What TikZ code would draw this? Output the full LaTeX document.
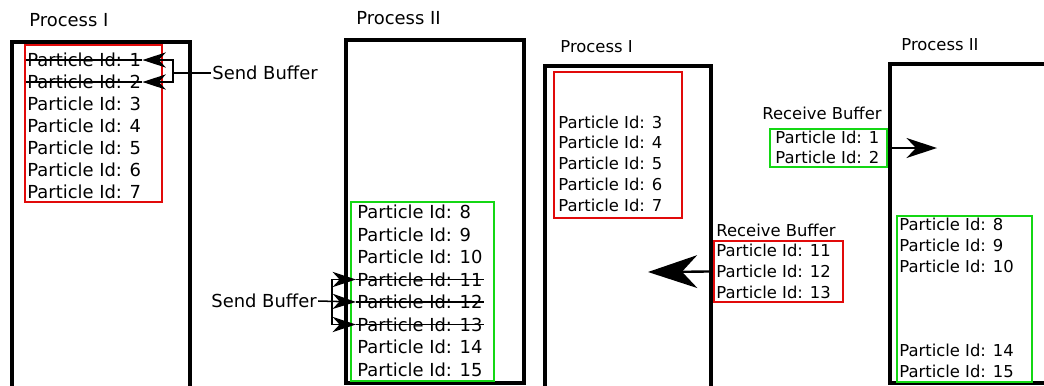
\documentclass[tikz,border=0pt]{standalone}
\usepackage{fontspec}
\setmainfont{DejaVu Sans}
\usetikzlibrary{arrows.meta}

\definecolor{bufred}{RGB}{225,10,10}
\definecolor{bufgreen}{RGB}{20,215,20}

\begin{document}
\begin{tikzpicture}[x=0.03cm,y=-0.03cm]
\tikzset{
  ptxt/.style={anchor=west,inner sep=1pt,font=\fontsize{15.3}{18}\selectfont},
  ptxtsmall/.style={anchor=west,inner sep=1pt,font=\fontsize{14}{17}\selectfont},
  procbox/.style={draw,line width=3.4pt},
  redframe/.style={draw=bufred,line width=2.1pt,rectangle,inner sep=0pt},
  greenframe/.style={draw=bufgreen,line width=2.1pt,rectangle,inner sep=0pt},
  strike/.style={line width=1.3pt},
  sendarrow/.style={-{Stealth[length=20pt,width=13pt,inset=6pt]},line width=1.3pt},
  recvarrow/.style={-{Stealth[length=26pt,width=17pt,inset=8pt]},line width=1.3pt},
  bigrecvarrow/.style={-{Stealth[length=42pt,width=28pt,inset=13pt]},line width=2pt}
}
\useasboundingbox (0,0) rectangle (1044,385);
\clip (0,0) rectangle (1044,385);
% before sending
\draw[procbox] (12,395) -- (12,42) -- (190,42) -- (190,395);
\draw[procbox] (346,40) rectangle (524,383);
\node[ptxt] (n_titleA) at (28,20) {Process I};
\node[ptxt] (n_titleB) at (355,18) {Process II};
\node[redframe,minimum width=4.11cm,minimum height=4.71cm] (n_bufA) at (93.5,123.5) {};
\node[greenframe,minimum width=4.29cm,minimum height=5.37cm] (n_bufB) at (422.5,291.5) {};
\node[ptxt] (n_p1) at (26,60) {Particle Id: 1};
\node[ptxt] (n_p2) at (26,82) {Particle Id: 2};
\node[ptxt] (n_p3) at (26,104) {Particle Id: 3};
\node[ptxt] (n_p4) at (26,126) {Particle Id: 4};
\node[ptxt] (n_p5) at (26,148) {Particle Id: 5};
\node[ptxt] (n_p6) at (26,170) {Particle Id: 6};
\node[ptxt] (n_p7) at (26,192) {Particle Id: 7};
\node[ptxt] (n_p8) at (356,212) {Particle Id: 8};
\node[ptxt] (n_p9) at (356,234.5) {Particle Id: 9};
\node[ptxt] (n_p10) at (356,257) {Particle Id: 10};
\node[ptxt] (n_p11) at (356,279.5) {Particle Id: 11};
\node[ptxt] (n_p12) at (356,302) {Particle Id: 12};
\node[ptxt] (n_p13) at (356,324.5) {Particle Id: 13};
\node[ptxt] (n_p14) at (356,347) {Particle Id: 14};
\node[ptxt] (n_p15) at (356,369.5) {Particle Id: 15};
\draw[strike] (n_p1.west) -- (n_p1.east);
\draw[strike] (n_p2.west) -- (n_p2.east);
\draw[strike] (n_p11.west) -- (n_p11.east);
\draw[strike] (n_p12.west) -- (n_p12.east);
\draw[strike] (n_p13.west) -- (n_p13.east);
\node[ptxt] (n_sendA) at (211,73) {Send Buffer};
\coordinate (c_brA) at (173,73);
\draw[line width=1.3pt] (n_sendA.west) -- (c_brA);
\draw[sendarrow] (c_brA) |- (n_p1.east);
\draw[sendarrow] (c_brA) |- (n_p2.east);
\node[ptxt] (n_sendB) at (210,301) {Send Buffer};
\coordinate (c_brB) at (332,302);
\draw[sendarrow] (n_sendB.east) -- (n_p12.west);
\draw[sendarrow] (c_brB) |- (n_p11.west);
\draw[sendarrow] (c_brB) |- (n_p13.west);
% after sending
\draw[procbox] (545,395) -- (545,66) -- (711,66) -- (711,395);
\draw[procbox] (1060,64) -- (890,64) -- (890,383) -- (1060,383);
\node[ptxtsmall] (n_titleC) at (559,47) {Process I};
\node[ptxtsmall] (n_titleD) at (900,45) {Process II};
\node[redframe,minimum width=3.84cm,minimum height=4.38cm] (n_bufC) at (618,145) {};
\node[greenframe,minimum width=4.05cm,minimum height=4.98cm] (n_bufD) at (964.5,299) {};
\node[ptxtsmall] (n_q3) at (557,122) {Particle Id: 3};
\node[ptxtsmall] (n_q4) at (557,142.75) {Particle Id: 4};
\node[ptxtsmall] (n_q5) at (557,163.5) {Particle Id: 5};
\node[ptxtsmall] (n_q6) at (557,184.25) {Particle Id: 6};
\node[ptxtsmall] (n_q7) at (557,205) {Particle Id: 7};
\node[ptxtsmall] (n_q8) at (898,224) {Particle Id: 8};
\node[ptxtsmall] (n_q9) at (898,245) {Particle Id: 9};
\node[ptxtsmall] (n_q10) at (898,266.5) {Particle Id: 10};
\node[ptxtsmall] (n_q14) at (898,350) {Particle Id: 14};
\node[ptxtsmall] (n_q15) at (898,371) {Particle Id: 15};
% receive buffers
\node[ptxtsmall] (n_recvA) at (715,230) {Receive Buffer};
\node[redframe,minimum width=3.87cm,minimum height=1.83cm] (n_rbufA) at (778.5,271.5) {};
\node[ptxtsmall] (n_q11) at (715,250.5) {Particle Id: 11};
\node[ptxtsmall] (n_q12) at (715,271.5) {Particle Id: 12};
\node[ptxtsmall] (n_q13) at (715,292.5) {Particle Id: 13};
\coordinate (c_tipA) at (648,272);
\draw[bigrecvarrow] (n_rbufA.west) -- (c_tipA);
\node[ptxtsmall] (n_recvB) at (761,113) {Receive Buffer};
\node[greenframe,line width=1.4pt,minimum width=3.51cm,minimum height=1.14cm] (n_rbufB) at (828.5,148) {};
\node[ptxtsmall] (n_q1) at (774,137.5) {Particle Id: 1};
\node[ptxtsmall] (n_q2) at (774,157.5) {Particle Id: 2};
\coordinate (c_tipB) at (937,148);
\draw[recvarrow] (n_rbufB.east) -- (c_tipB);
\end{tikzpicture}
\end{document}
